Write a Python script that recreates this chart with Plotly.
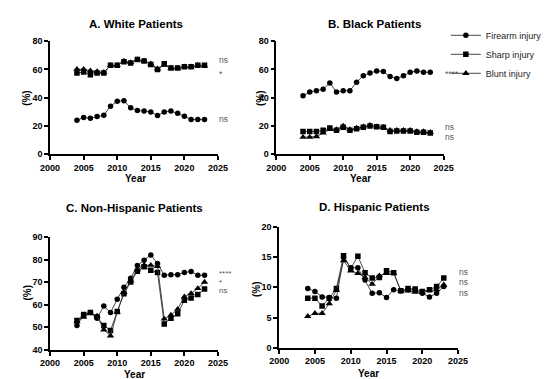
import plotly.graph_objects as go

years = list(range(2004, 2024))

white_firearm = [24.1, 26, 25.5, 26.7, 27.6, 34, 37.5, 37.9, 32.9, 31, 30.6, 29.9, 27.4, 29.9, 30.6, 29, 26.9, 24.6, 24.6, 24.6]
white_sharp = [57.5, 58.2, 56.3, 57.5, 57.5, 63, 63, 65.5, 64.5, 67, 66, 63.5, 60, 64, 61, 61, 62, 62, 63, 63]
white_blunt = [60.2, 60.2, 59.1, 58.6, 58, 63, 63, 66, 65, 67, 66, 64, 60.5, 63, 61, 61, 62, 62, 63, 62.5]

black_firearm = [41.4, 44, 45, 46, 50.5, 44, 45, 45, 51, 55.6, 57.5, 59, 58.5, 55, 53.6, 55.5, 58, 59, 58, 58]
black_sharp = [16, 16, 16, 17, 18.5, 17, 19, 17, 18, 19, 20, 19.5, 19, 16, 16.5, 16.5, 16.5, 15.5, 15.5, 15]
black_blunt = [12, 12, 12.5, 15, 17.5, 17.5, 20, 17.5, 18.5, 19.5, 20.5, 19.5, 19, 17, 17, 17, 17, 16, 16, 15.5]

nonhisp_firearm = [50.8, 55.5, 56.5, 54, 59.4, 56.5, 62.4, 67.7, 71.7, 77.3, 79.7, 82, 78.2, 73, 73.3, 73.3, 74.3, 74.7, 73, 73]
nonhisp_sharp = [53, 55.7, 56.5, 54.5, 50.8, 48.6, 57, 64.8, 70, 74.8, 76.8, 75.2, 74.2, 51.5, 54, 56, 62, 63, 64.5, 67]
nonhisp_blunt = [52.5, 54.5, 56.3, 55, 48.9, 46.2, 56.7, 65.5, 70.7, 75.5, 77.5, 77.5, 77, 53.7, 55.4, 58, 63.5, 65, 67.2, 70]

hisp_firearm = [9.8, 9.3, 8.4, 8.3, 8.2, 14.9, 13.2, 13.2, 11.2, 9, 9.1, 8.3, 9.6, 9.4, 9.6, 9.5, 9, 8.4, 9, 10.1]
hisp_sharp = [8.2, 8.2, 6.9, 8.2, 9.8, 15.2, 13.1, 15.1, 12.4, 11.5, 11.6, 12.7, 12.4, 9.4, 9.8, 9.7, 9.3, 9.6, 10.1, 11.5]
hisp_blunt = [5.2, 5.7, 5.7, 7.3, 9.5, 14.4, 12.7, 12.3, 11.6, 10.5, 11.9, 12.3, 12.3, 9.4, 9.4, 9.2, 9.2, 9.5, 9.6, 10.4]

series_names = ["Firearm injury", "Sharp injury", "Blunt injury"]
panel_titles = ["A. White Patients", "B. Black Patients", "C. Non-Hispanic Patients", "D. Hispanic Patients"]
panel_data = [
    [white_firearm, white_sharp, white_blunt],
    [black_firearm, black_sharp, black_blunt],
    [nonhisp_firearm, nonhisp_sharp, nonhisp_blunt],
    [hisp_firearm, hisp_sharp, hisp_blunt],
]
sig_labels = [
    [("ns", 67), ("*", 57), ("ns", 25)],
    [("****", 57), ("ns", 19), ("ns", 12)],
    [("****", 73.8), ("*", 70.0), ("ns", 66.2)],
    [("ns", 12.5), ("ns", 10.8), ("ns", 9.0)],
]
x_ticks = [2000, 2005, 2010, 2015, 2020, 2025]
y_ranges = [[0, 80], [0, 80], [40, 90], [0, 20]]
y_dticks = [20, 20, 10, 5]

W, H = 550, 379
def px(x):
    return x / W
def py(y):
    return 1 - y / H

# layout geometry (pixels)
x_domains = [(33.3, 207.5), (268, 441.7), (33.3, 207.5), (271, 456.7)]
y_domains = [(145, 29), (145, 29), (346, 230), (344, 219.3)]
title_pos = [(122, 11), (370, 11), (121, 200), (370, 199)]
year_pos = [(121.7, 170), (355, 170), (121, 371.5), (364, 370.5)]
pct_pos = [(9.5, 87), (251.5, 87), (9.5, 287), (247, 283.5)]

symbols = ["circle", "square", "triangle-up"]
sizes = [5.5, 5.5, 6.5]

FONT = "Liberation Sans, Arial, sans-serif"

fig = go.Figure()
annotations = []
layout = {}
for i in range(4):
    ax = "" if i == 0 else str(i + 1)
    for k in range(3):
        fig.add_trace(go.Scatter(
            x=years, y=panel_data[i][k], mode="lines+markers",
            name=series_names[k], showlegend=(i == 1),
            line=dict(color="#333333", width=0.9),
            marker=dict(symbol=symbols[k], size=sizes[k], color="black"),
            xaxis="x" + ax, yaxis="y" + ax,
        ))
    xd = x_domains[i]
    yd = y_domains[i]
    layout["xaxis" + ax] = dict(
        domain=[px(xd[0]), px(xd[1])], range=[2000, 2025], anchor="y" + ax,
        tickvals=x_ticks, ticks="outside", ticklen=4, tickwidth=1.5, tickcolor="black",
        showline=True, linecolor="black", linewidth=1.5, showgrid=False, zeroline=False,
        tickfont=dict(family=FONT, size=9, color="black", weight="bold"),
    )
    layout["yaxis" + ax] = dict(
        domain=[py(yd[0]), py(yd[1])], range=y_ranges[i], anchor="x" + ax,
        dtick=y_dticks[i], ticks="outside", ticklen=4, tickwidth=1.5, tickcolor="black",
        showline=True, linecolor="black", linewidth=1.5, showgrid=False, zeroline=False,
        tickfont=dict(family=FONT, size=9, color="black", weight="bold"),
    )
    annotations.append(dict(text="<b>" + panel_titles[i] + "</b>", x=px(title_pos[i][0]), y=py(title_pos[i][1]),
                            xref="paper", yref="paper", xanchor="center", yanchor="middle", showarrow=False,
                            font=dict(family=FONT, size=11.5, color="black")))
    annotations.append(dict(text="<b>Year</b>", x=px(year_pos[i][0]), y=py(year_pos[i][1]),
                            xref="paper", yref="paper", xanchor="center", yanchor="middle", showarrow=False,
                            font=dict(family=FONT, size=10, color="black")))
    annotations.append(dict(text="<b>(%)</b>", x=px(pct_pos[i][0]), y=py(pct_pos[i][1]),
                            xref="paper", yref="paper", xanchor="center", yanchor="middle",
                            showarrow=False, textangle=-90,
                            font=dict(family=FONT, size=10, color="black")))
    for lab, yv in sig_labels[i]:
        annotations.append(dict(text=lab, x=2024.9, y=yv, xref="x" + ax, yref="y" + ax,
                                xanchor="left", yanchor="middle", showarrow=False,
                                font=dict(family=FONT, size=8.5 if i != 2 else 8, color="#555555")))

fig.update_layout(
    width=W, height=H, margin=dict(l=0, r=0, t=0, b=0),
    paper_bgcolor="white", plot_bgcolor="white",
    showlegend=True,
    legend=dict(x=px(444), y=py(8), xanchor="left", yanchor="top",
                font=dict(family=FONT, size=9, color="#222222"),
                bgcolor="rgba(0,0,0,0)", itemwidth=30, tracegroupgap=0),
    annotations=annotations,
    **layout,
)

fig.write_html("out.html")
